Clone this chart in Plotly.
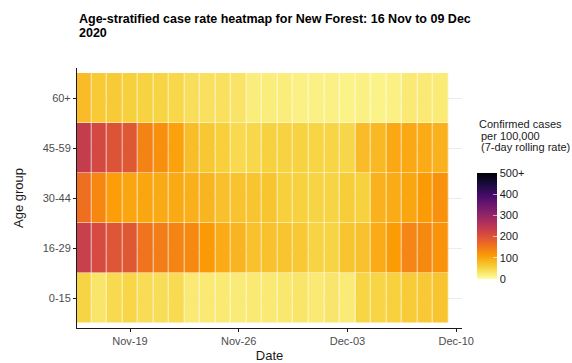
import pandas as pd
import plotly.graph_objects as go

# ---------------- data ----------------
dates = pd.date_range("2020-11-16", "2020-12-09", freq="D")
age_groups = ["0-15", "16-29", "30-44", "45-59", "60+"]

rate_0_15 = [52, 32, 45, 50, 42, 41, 44, 26, 27, 27, 24, 27,
             27, 29, 32, 27, 31, 25, 51, 51, 55, 61, 64, 68]
rate_16_29 = [232, 212, 195, 192, 155, 145, 137, 130, 112, 95, 84, 72,
              72, 69, 64, 52, 52, 69, 72, 95, 110, 136, 130, 120]
rate_30_44 = [160, 132, 108, 100, 100, 96, 96, 90, 84, 73, 70, 69,
              68, 56, 55, 52, 52, 60, 55, 88, 94, 100, 110, 122]
rate_45_59 = [238, 215, 198, 192, 138, 125, 105, 75, 65, 57, 46, 48,
              54, 53, 53, 51, 51, 49, 78, 80, 97, 97, 95, 88]
rate_60p = [78, 63, 62, 56, 53, 52, 48, 40, 38, 38, 33, 22,
            22, 22, 18, 18, 18, 15, 18, 15, 18, 26, 26, 25]

cbar_vals = [0, 100, 200, 300, 400, 500]
cbar_text = ["0", "100", "200", "300", "400", "500+"]
x_ticks = ["2020-11-19", "2020-11-26", "2020-12-03", "2020-12-10"]

z = [rate_0_15, rate_16_29, rate_30_44, rate_45_59, rate_60p]

# ---------------- figure ----------------
FONT = "Liberation Sans, Arial, sans-serif"
W, H = 572, 363
L, R, T, B = 77, 110, 68, 35
pw, ph = W - L - R, H - T - B


def py(p):
    """pixel row -> paper y"""
    return (H - B - p) / ph


def px(p):
    return (p - L) / pw


fig = go.Figure()
fig.add_trace(go.Heatmap(
    x=dates, y=age_groups, z=z,
    zmin=0, zmax=500,
    colorscale="Inferno", reversescale=True,
    xgap=0.7, ygap=0.5,
    colorbar=dict(
        x=px(476.7), xanchor="left", xpad=0, ypad=0,
        y=py(225.9), yanchor="middle",
        thickness=20, lenmode="pixels", len=106,
        outlinewidth=0,
        tickvals=cbar_vals, ticktext=cbar_text,
        ticks="inside", ticklen=4, tickcolor="rgba(255,255,255,0.6)",
        tickfont=dict(family=FONT, size=11, color="#1a1a1a"),
    ),
    hovertemplate="%{x|%d %b}<br>%{y}: %{z}<extra></extra>",
))

fig.update_layout(
    width=W, height=H,
    margin=dict(l=L, r=R, t=T, b=B, autoexpand=False),
    paper_bgcolor="white", plot_bgcolor="white",
    font=dict(family=FONT, color="#1a1a1a"),
    xaxis=dict(
        type="date",
        range=["2020-11-15 14:05", "2020-12-10 09:00"],
        tickvals=x_ticks, tickformat="%b-%d",
        showgrid=False, zeroline=False,
        showline=True, linecolor="#1a1a1a", linewidth=1,
        ticks="outside", ticklen=3, tickcolor="#1a1a1a",
        tickfont=dict(family=FONT, size=11, color="#4d4d4d"),
        title=dict(text="Date", font=dict(family=FONT, size=13, color="#1a1a1a"), standoff=6),
    ),
    yaxis=dict(
        type="category", categoryorder="array", categoryarray=age_groups,
        range=[-0.6, 4.6],
        showgrid=True, gridcolor="#ebebeb", gridwidth=1, zeroline=False,
        showline=True, linecolor="#1a1a1a", linewidth=1,
        ticks="outside", ticklen=3, tickcolor="#1a1a1a",
        tickfont=dict(family=FONT, size=11, color="#4d4d4d"),
        title=dict(text="Age group", font=dict(family=FONT, size=13, color="#1a1a1a"), standoff=16),
    ),
)

# title (two lines)
fig.add_annotation(text="<b>Age-stratified case rate heatmap for New Forest: 16 Nov to 09 Dec</b>",
                   xref="paper", yref="paper", x=0, y=py(18.5), xanchor="left", yanchor="middle",
                   showarrow=False, font=dict(family=FONT, size=12.5, color="#000000"))
fig.add_annotation(text="<b>2020</b>",
                   xref="paper", yref="paper", x=0, y=py(32.5), xanchor="left", yanchor="middle",
                   showarrow=False, font=dict(family=FONT, size=12.5, color="#000000"))

# colorbar title lines
cb_lines = [("Confirmed cases", 477, 124), ("per 100,000", 479, 135.5), ("(7-day rolling rate)", 479, 146.5)]
for txt, xx, yy in cb_lines:
    fig.add_annotation(text=txt, xref="paper", yref="paper", x=px(xx), y=py(yy),
                       xanchor="left", yanchor="middle", showarrow=False,
                       font=dict(family=FONT, size=11, color="#1a1a1a"))

fig.write_html("out.html", config={"displayModeBar": False},
               post_script="document.body.style.margin='0';")
